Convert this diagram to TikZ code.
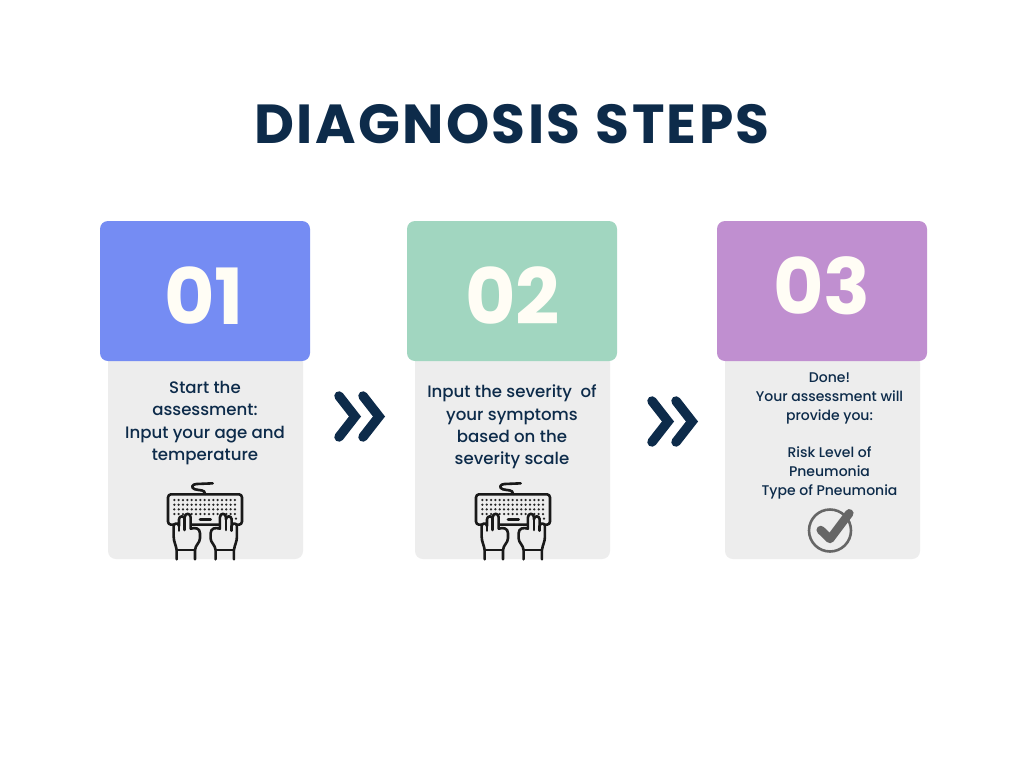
\documentclass[tikz,border=0pt]{standalone}
\usepackage{fontspec}
\setmainfont{Poppins}
\newfontfamily\pbold[LetterSpace=4.3]{Poppins Bold}
\newfontfamily\pnum{Poppins Bold}
\newfontfamily\pmed{Poppins Medium}
\definecolor{navy}{HTML}{0D2B4A}
\definecolor{cardgrey}{HTML}{EDEDED}
\definecolor{cblue}{HTML}{758CF3}
\definecolor{cgreen}{HTML}{A1D6C0}
\definecolor{cpurple}{HTML}{C08FD0}
\definecolor{numwhite}{HTML}{FFFDF5}
\definecolor{checkgrey}{HTML}{666666}
\tikzset{
  x=1pt,y=-1pt,
  greybox/.style={fill=cardgrey,rounded corners=8pt},
  headbox/.style={rounded corners=8pt},
  numlabel/.style={text=numwhite,font=\pnum\fontsize{77.5}{77.5}\selectfont,inner sep=0pt},
  bodylarge/.style={text=navy,align=center,inner sep=0pt,font=\pmed\fontsize{16.6}{22.2}\selectfont},
  bodysmall/.style={text=navy,align=center,inner sep=0pt,font=\pmed\fontsize{14}{18.9}\selectfont},
  chev/.style={draw=navy,line width=9.5pt,line cap=round,line join=miter},
  iconline/.style={draw=black!90,line width=2.6pt,line cap=round,line join=round},
}
\newcommand{\chevrons}[2]{%
  \draw[chev] (#1,#2) -- (#1+16,#2+20.5) -- (#1,#2+41);
  \draw[chev] (#1+24,#2) -- (#1+40,#2+20.5) -- (#1+24,#2+41);
}
\newcommand{\handshape}{%
  (80,268) -- (80,240) .. controls (78,225) and (71,215) .. (71,200) -- (71,168)
  .. controls (71,158) and (87,158) .. (87,168) -- (87,148)
  .. controls (87,136) and (104,136) .. (104,148) -- (104,142)
  .. controls (104,128) and (122,128) .. (122,142) -- (122,176)
  .. controls (135,172) and (150,174) .. (150,190) -- (150,205)
  .. controls (150,218) and (136,225) .. (135,240) -- (135,268)
}
\newcommand{\keyboardicon}[1]{%
  \begin{scope}[shift={(#1,470)},x=0.3333pt,y=-0.3333pt]
    \draw[iconline] (165,72) .. controls (165,58) and (150,62) .. (135,58) .. controls (122,54) and (125,42) .. (140,42) -- (188,40);
    \draw[iconline,line width=2.6pt,rounded corners=3pt] (54,73) rectangle (276,164);
    \foreach \yy in {90,104,118,132} \foreach \xx in {0,...,14}
      \fill[black!85] (73+\xx*13,\yy) circle (1.25pt);
    \draw[iconline] (150,149) -- (182,149);
    \foreach \xx in {0,1,2} {\fill[black!85] (232+\xx*13,146) circle (1.25pt);}
    \draw[iconline,fill=cardgrey] \handshape;
    \draw[iconline] (80,240) -- (135,240);
    \draw[iconline] (87,168) -- (87,182) (104,148) -- (104,180);
    \begin{scope}[xshift=110.6pt,xscale=-1]
      \draw[iconline,fill=cardgrey] \handshape;
      \draw[iconline] (80,240) -- (135,240);
      \draw[iconline] (87,168) -- (87,182) (104,148) -- (104,180);
    \end{scope}
  \end{scope}
}
\begin{document}
\begin{tikzpicture}
\useasboundingbox (0,0) rectangle (1024,768);
\fill[white] (0,0) rectangle (1024,768);
\node[text=navy,inner sep=0pt,font=\pbold\fontsize{55}{55}\selectfont] (title) at (512,124) {DIAGNOSIS\hspace{1.5pt} STEPS};

\fill[greybox] (108,340) rectangle (303,559);
\fill[greybox] (415,340) rectangle (610,559);
\fill[greybox] (725,340) rectangle (920,559);
\fill[headbox,cblue] (100,221) rectangle (310,361);
\fill[headbox,cgreen] (407,221) rectangle (617,361);
\fill[headbox,cpurple] (717,221) rectangle (927,361);

\node[numlabel] (n1) at (204,296) {01};
\node[numlabel] (n2) at (512.5,296) {02};
\node[numlabel] (n3) at (822,286) {03};

\node[bodylarge] (t1) at (205,423) {Start the\\assessment:\\Input your age and\\temperature};
\node[bodylarge] (t2) at (512,427) {Input the severity\ \ of\\your symptoms\\based on the\\severity scale};
\node[bodysmall] (t3) at (829.5,436) {Done!\\Your assessment will\\provide you:\\[18.9pt]Risk Level of\\Pneumonia\\Type of Pneumonia};

\chevrons{339}{396}
\chevrons{652}{401}

\keyboardicon{150}
\keyboardicon{458}

\draw[checkgrey,line width=2.6pt] (830,530.5) circle (21);
\draw[checkgrey,line width=8.5pt,line cap=round,line join=round] (820.7,530) -- (830,539) -- (849.3,513.3);
\end{tikzpicture}
\end{document}
